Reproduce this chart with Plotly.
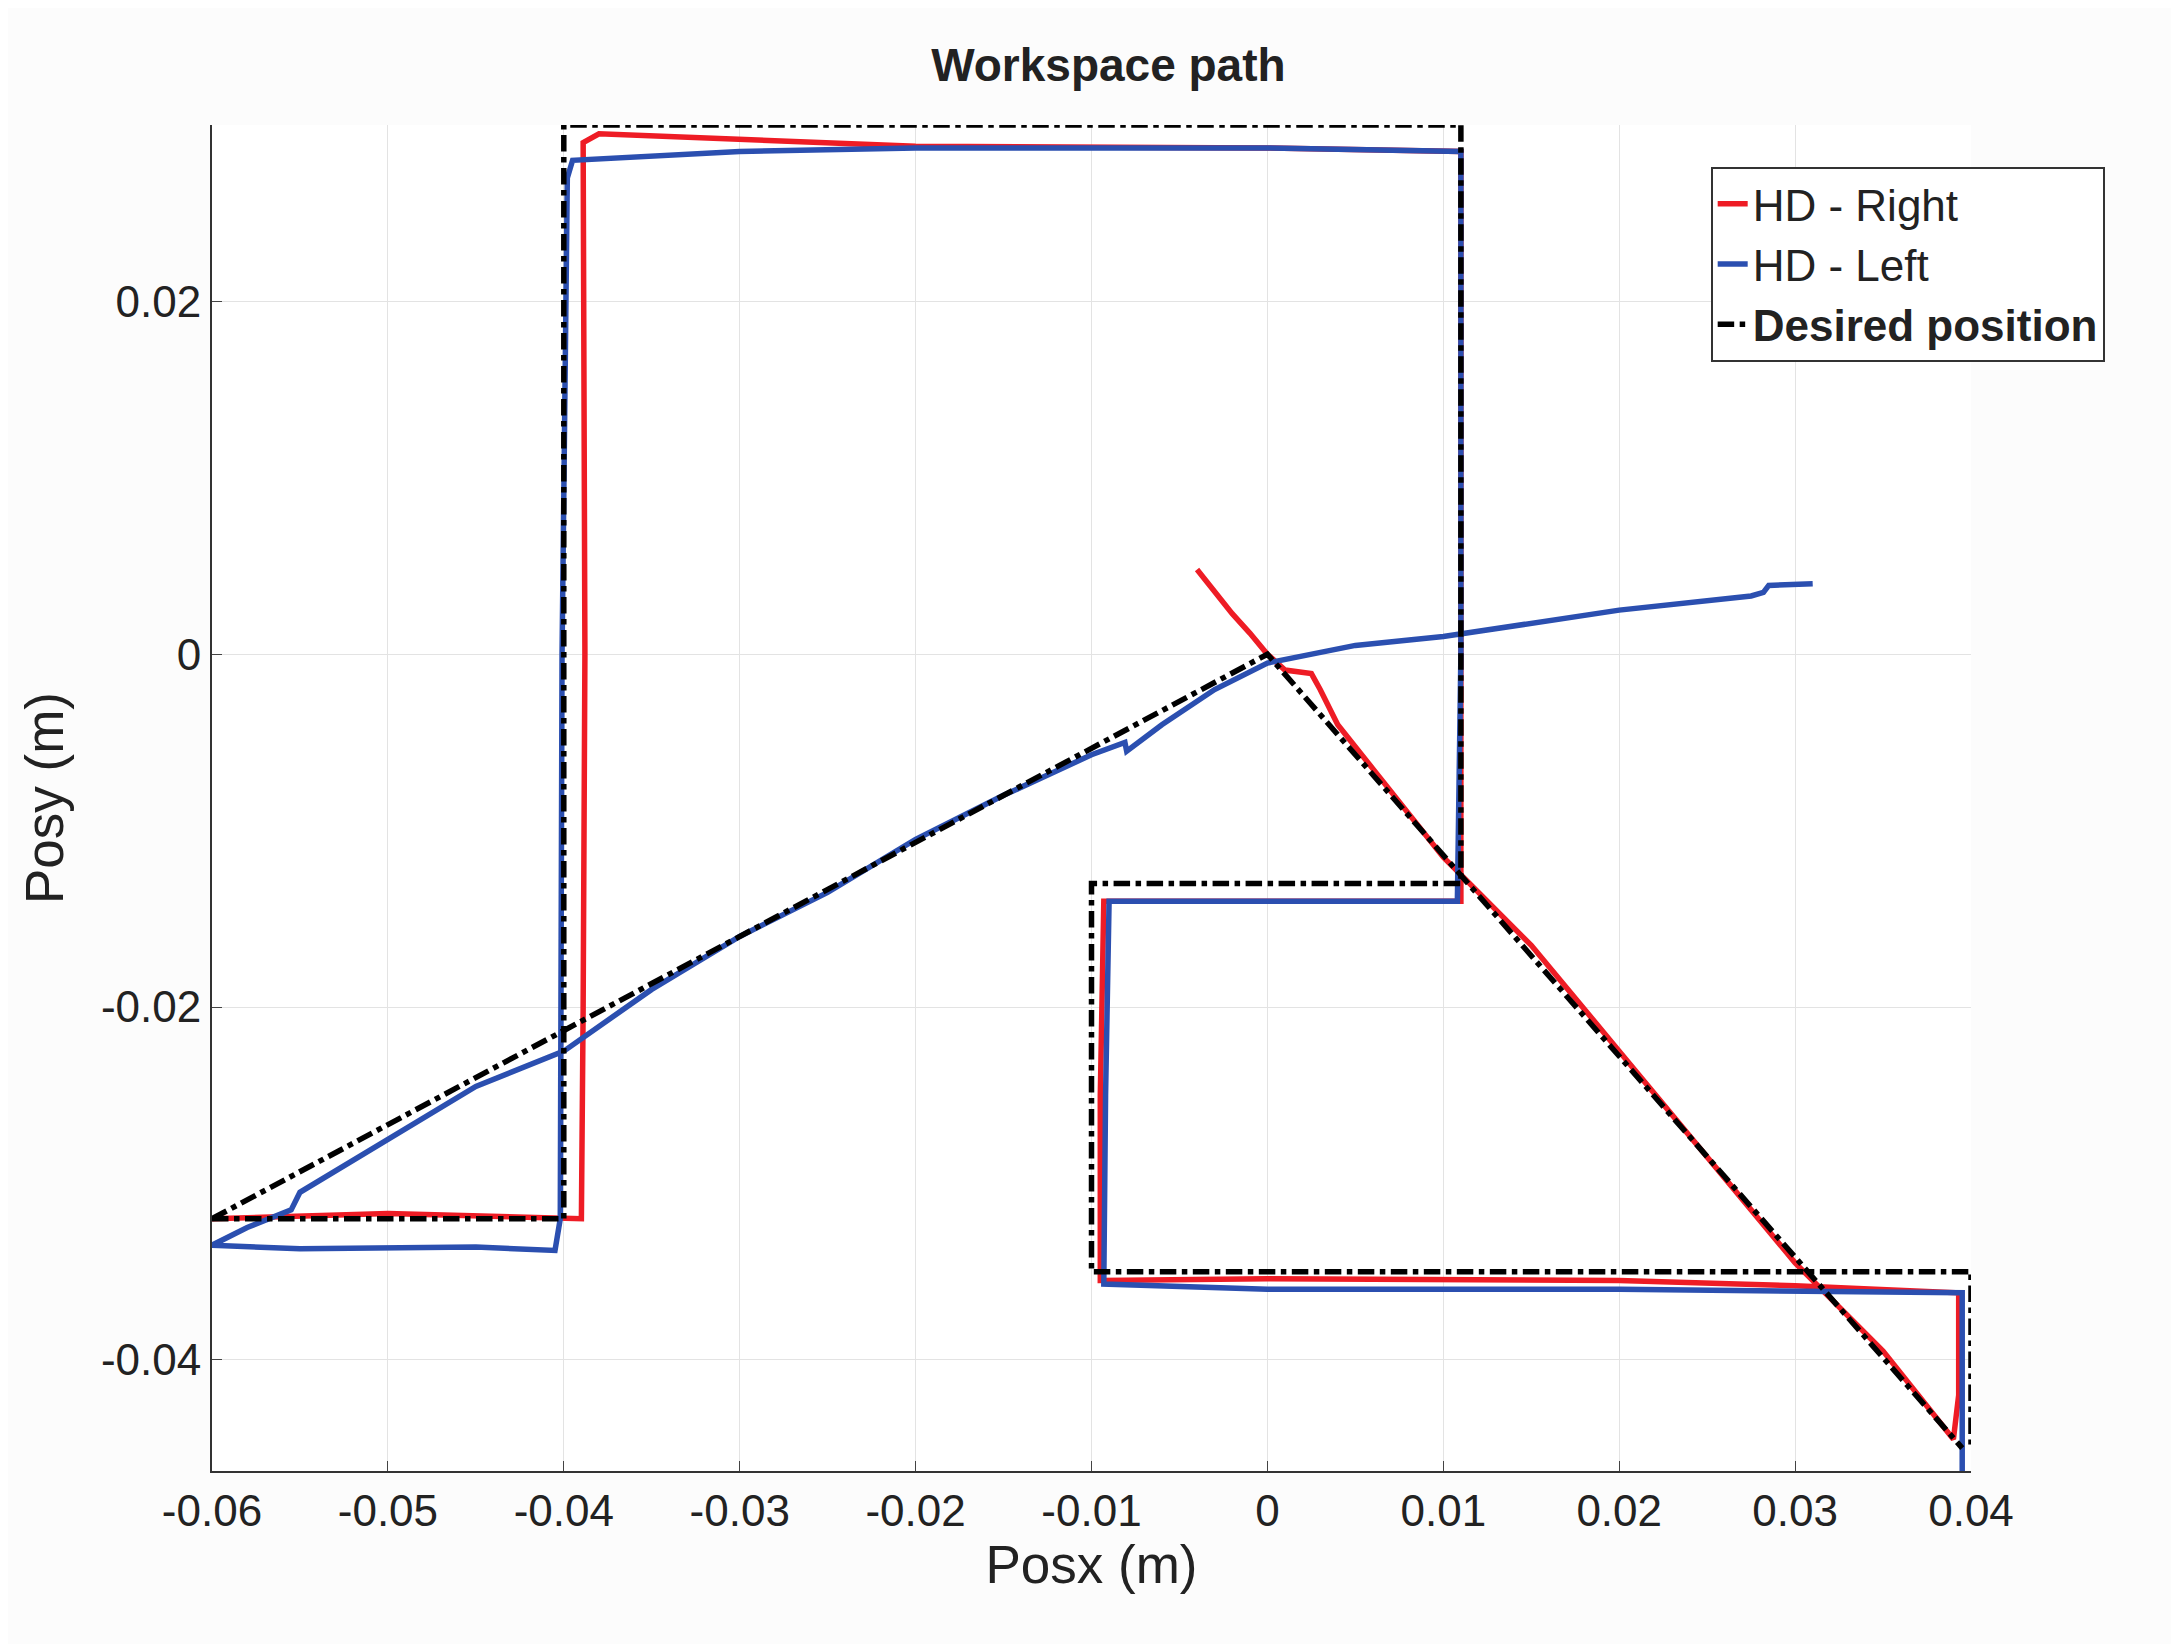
import plotly.graph_objects as go

des_x = [-0.06, 0.0, 0.0395, None, -0.06, -0.04, -0.04, 0.011, 0.011, -0.01, -0.01, 0.04, 0.04]
des_y = [-0.032, 0.0, -0.045, None, -0.032, -0.032, 0.030, 0.030, -0.013, -0.013, -0.035, -0.035, -0.0448]

red_x = [-0.004, -0.003, -0.002, -0.001, 0.0, 0.001, 0.002, 0.0025, 0.003, 0.004, 0.006, 0.008, 0.01, 0.012, 0.015,
         0.02, 0.025, 0.03, 0.035, 0.039, 0.0393, 0.0393, 0.03, 0.02, 0.0, -0.0095, -0.0095, -0.0093, 0.0, 0.011,
         0.011, 0.0, -0.02, -0.038, -0.0389, -0.0388, -0.0389, -0.039, -0.05, -0.06]
red_y = [0.0048, 0.0035, 0.0023, 0.0012, 0.0, -0.0009, -0.001, -0.0011, -0.002, -0.004, -0.0065, -0.009, -0.0115, -0.0135, -0.0165,
         -0.0225, -0.0285, -0.0345, -0.0395, -0.0445, -0.042, -0.0362, -0.0358, -0.0355, -0.0354, -0.0355, -0.025, -0.014, -0.014, -0.014,
         0.0285, 0.0287, 0.0288, 0.0295, 0.029, 0.0, -0.02, -0.032, -0.0317, -0.032]

blue_x = [0.031, 0.0285, 0.0282, 0.0275, 0.02, 0.01, 0.005, 0.0, -0.003, -0.006, -0.008, -0.0081, -0.01, -0.015, -0.02,
          -0.025, -0.03, -0.035, -0.04, -0.045, -0.05, -0.055, -0.0555, -0.058, -0.06, -0.055, -0.045, -0.0405, -0.0402,
          -0.0401, -0.0398, -0.0395, -0.03, -0.02, 0.0, 0.011, 0.011, 0.0108, 0.0, -0.009, -0.0092, -0.0093, 0.0, 0.02,
          0.0395, 0.0395, 0.0395]
blue_y = [0.004, 0.0039, 0.0035, 0.0033, 0.0025, 0.001, 0.0005, -0.0005, -0.002, -0.004, -0.0055, -0.005, -0.0057, -0.008, -0.0105,
          -0.0135, -0.016, -0.019, -0.0225, -0.0245, -0.0275, -0.0305, -0.0315, -0.0325, -0.0335, -0.0337, -0.0336, -0.0338, -0.032,
          0.0, 0.027, 0.028, 0.0285, 0.0287, 0.0287, 0.0285, 0.0, -0.014, -0.014, -0.014, -0.025, -0.0357, -0.036, -0.036,
          -0.0362, -0.042, -0.047]

fig = go.Figure()
fig.add_trace(go.Scatter(x=red_x, y=red_y, mode="lines", name="HD - Right",
                         line=dict(color="#ee1c25", width=5.5)))
fig.add_trace(go.Scatter(x=blue_x, y=blue_y, mode="lines", name="HD - Left",
                         line=dict(color="#2b4fb0", width=5.5)))
fig.add_trace(go.Scatter(x=des_x, y=des_y, mode="lines", name="<b>Desired position</b>",
                         line=dict(color="black", width=5.5, dash="dashdot")))

fig.update_layout(
    width=2179, height=1644, paper_bgcolor="#fcfcfc", plot_bgcolor="white",
    font=dict(family="Liberation Sans, Arial", size=44, color="#222"),
    title=dict(text="<b>Workspace path</b>", x=0.505, y=0.975, xanchor="center", font=dict(size=46)),
    margin=dict(l=204, r=216, t=117, b=181),
    showlegend=True,
    legend=dict(x=1.076, y=0.969, xanchor="right", yanchor="top", bordercolor="#333", borderwidth=2,
                bgcolor="white", font=dict(size=44), tracegroupgap=4),
    xaxis=dict(range=[-0.06, 0.04], tickvals=[-0.06, -0.05, -0.04, -0.03, -0.02, -0.01, 0, 0.01, 0.02, 0.03, 0.04],
               ticktext=["-0.06", "-0.05", "-0.04", "-0.03", "-0.02", "-0.01", "0", "0.01", "0.02", "0.03", "0.04"],
               showgrid=True, gridcolor="#e3e3e3", zeroline=False, showline=True, linecolor="#333", linewidth=2,
               ticks="inside", ticklen=10, title=dict(text="Posx (m)", standoff=12)),
    yaxis=dict(range=[-0.0463, 0.03], tickvals=[-0.04, -0.02, 0, 0.02],
               ticktext=["-0.04", "-0.02", "0", "0.02"],
               showgrid=True, gridcolor="#e3e3e3", zeroline=False, showline=True, linecolor="#333", linewidth=2,
               ticks="inside", ticklen=10, title=dict(text="Posy (m)", standoff=20)),
)
fig.write_html("out.html")
